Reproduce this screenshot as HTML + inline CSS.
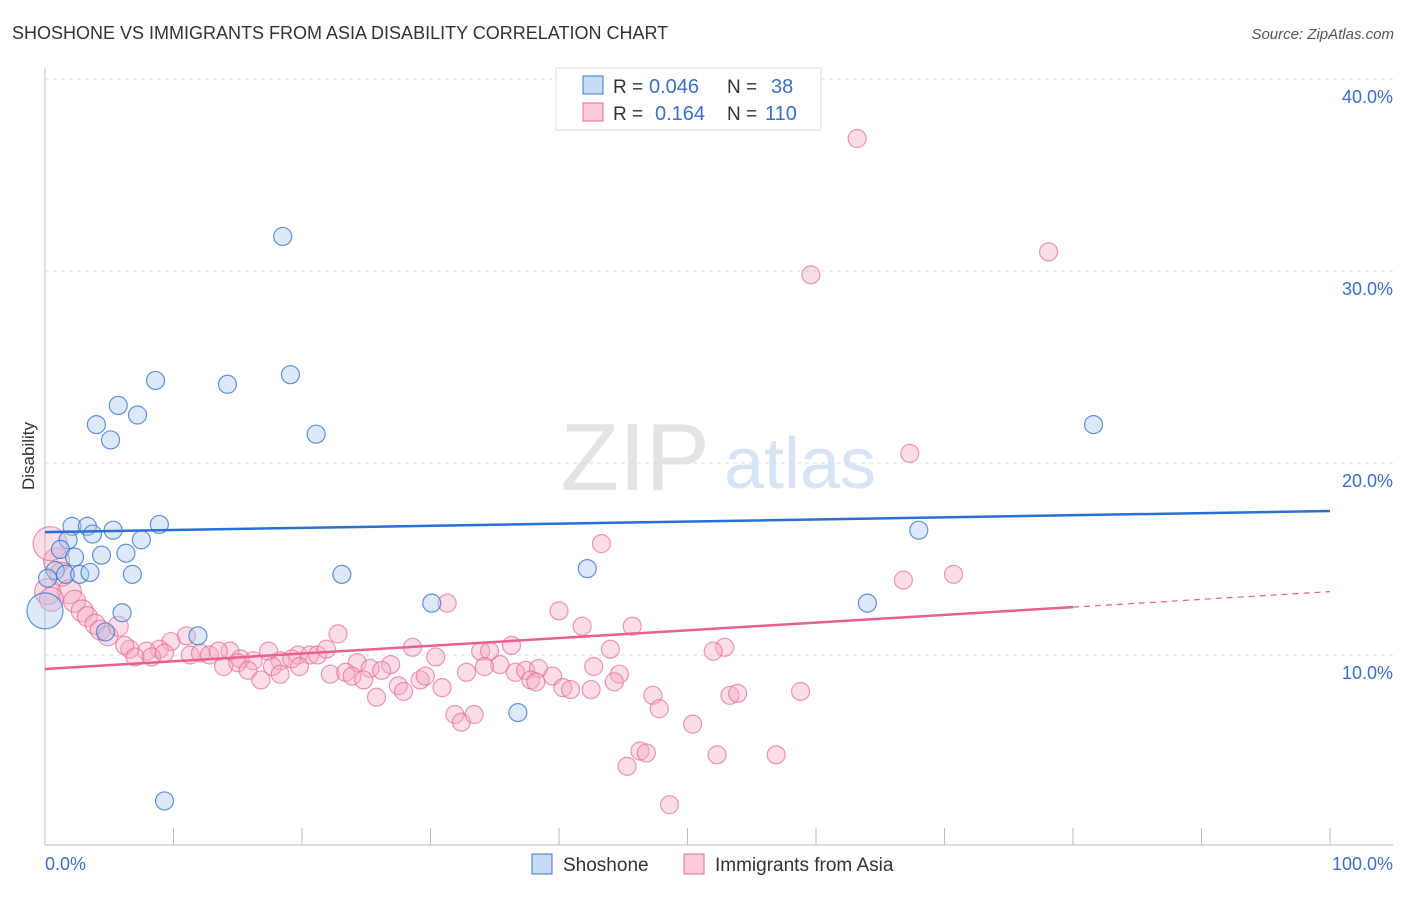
<!DOCTYPE html>
<html><head><meta charset="utf-8"><style>
body{margin:0;background:#fff;font-family:"Liberation Sans",sans-serif;}
svg text{font-family:"Liberation Sans",sans-serif;}
</style></head><body>
<svg id="c" width="1406" height="892"></svg>
<script>
const blueX=[18.5,8.6,14.2,19.1,5.7,7.2,4,5.1,21.1,81.6,2.1,3.3,5.3,8.9,3.7,1.8,7.5,1.2,2.3,4.4,6.3,0.8,1.6,2.7,3.5,6.8,23.1,42.2,68,6,30.1,64,11.9,4.7,36.8,9.3,0,0.2];
const blueY=[31.8,24.3,24.1,24.6,23,22.5,22,21.2,21.5,22,16.7,16.7,16.5,16.8,16.3,16,16,15.5,15.1,15.2,15.3,14.4,14.2,14.2,14.3,14.2,14.2,14.5,16.5,12.2,12.7,12.7,11,11.2,7,2.4,12.3,14];
const blueR=[9,9,9,9,9,9,9,9,9,9,9,9,9,9,9,9,9,9,9,9,9,9,9,9,9,9,9,9,9,9,9,9,9,9,9,9,18,9];
const pinkX=[63.2,78.1,59.6,67.3,43.3,70.7,66.8,31.3,40,41.8,45.7,22.8,11,9.8,28.6,36.3,52.9,52,44,19.7,17.4,14.4,8.9,7.9,6.6,6.2,7,8.3,9.3,11.3,12.1,12.8,13.5,15.2,16.2,18.3,19.2,20.6,21.2,21.9,24.3,25.3,26.9,30.4,33.9,34.6,35.4,36.6,37.4,38.4,39.5,42.7,44.7,32.8,34.2,13.9,15,15.8,16.8,17.7,18.3,19.8,22.2,23.4,23.9,24.8,26.2,27.5,27.9,29.2,29.6,30.9,37.8,38.2,40.3,40.9,42.5,44.3,47.3,47.8,53.3,53.9,58.8,25.8,31.9,32.4,33.4,50.4,46.3,46.8,45.3,52.3,56.9,48.6,0.9,1.3,1.9,2.3,2.9,3.3,3.9,4.3,4.9,5.7,0.4,0.2,0.5];
const pinkY=[36.9,31,29.8,20.5,15.8,14.2,13.9,12.7,12.3,11.5,11.5,11.1,11,10.7,10.4,10.5,10.4,10.2,10.3,10,10.2,10.2,10.3,10.2,10.3,10.5,9.9,9.9,10.1,10,10.1,10,10.2,9.8,9.7,9.7,9.8,10,10,10.3,9.6,9.3,9.5,9.9,10.2,10.2,9.5,9.1,9.2,9.3,8.9,9.4,9,9.1,9.4,9.4,9.6,9.2,8.7,9.4,9,9.4,9,9.1,8.9,8.7,9.2,8.4,8.1,8.7,8.9,8.3,8.7,8.6,8.3,8.2,8.2,8.6,7.9,7.2,7.9,8,8.1,7.8,6.9,6.5,6.9,6.4,5,4.9,4.2,4.8,4.8,2.2,14.9,14.2,13.3,12.8,12.3,12,11.6,11.3,11,11.5,15.8,13.3,12.9];
const pinkR=[9,9,9,9,9,9,9,9,9,9,9,9,9,9,9,9,9,9,9,9,9,9,9,9,9,9,9,9,9,9,9,9,9,9,9,9,9,9,9,9,9,9,9,9,9,9,9,9,9,9,9,9,9,9,9,9,9,9,9,9,9,9,9,9,9,9,9,9,9,9,9,9,9,9,9,9,9,9,9,9,9,9,9,9,9,9,9,9,9,9,9,9,9,9,13,12,12,11,11,10,10,10,10,10,17,13,12];
const yTicks=[10,20,30,40];
const blueTrend=[16.4,17.5];
const pinkTrend=[9.27,13.3];
const pinkSolidEnd=80;
const NS="http://www.w3.org/2000/svg";
const svg=document.getElementById('c');
const X=v=>45+v*12.85, Y=v=>847-v*19.2;
function mk(t,a,p){const e=document.createElementNS(NS,t);for(const k in a)e.setAttribute(k,a[k]);(p||svg).appendChild(e);return e;}
let e;
e=mk('text',{x:12,y:39,'font-size':18,fill:'#333'});e.textContent='SHOSHONE VS IMMIGRANTS FROM ASIA DISABILITY CORRELATION CHART';


e=mk('text',{x:1394,y:39,'font-size':15,fill:'#555','text-anchor':'end','font-style':'italic'});e.textContent='Source: ZipAtlas.com';


e=mk('text',{x:635,y:490,'font-size':96,fill:'#e4e4e4','text-anchor':'middle','font-family':'Liberation Serif'});e.textContent='ZIP';


e=mk('text',{x:800,y:488,'font-size':72,fill:'#d6e4f5','text-anchor':'middle'});e.textContent='atlas';


yTicks.forEach(t=>{
 e=mk('line',{x1:45,x2:1393,y1:Y(t),y2:Y(t),stroke:'#ddd','stroke-dasharray':'4,4'});
 
 
 e=mk('text',{x:1393,y:Y(t)+24,'font-size':18,fill:'#3b70c8','text-anchor':'end'});e.textContent=t.toFixed(1)+'%';
 
 
});
e=mk('line',{x1:45,x2:45,y1:68,y2:845,stroke:'#bbb'});


e=mk('line',{x1:45,x2:1393,y1:845,y2:845,stroke:'#bbb'});


for(let i=0;i<=10;i++){e=mk('line',{x1:X(i*10),x2:X(i*10),y1:828,y2:845,stroke:'#bbb'});
 
 }
e=mk('text',{x:45,y:870,'font-size':18,fill:'#3b70c8'});e.textContent='0.0%';


e=mk('text',{x:1393,y:870,'font-size':18,fill:'#3b70c8','text-anchor':'end'});e.textContent='100.0%';


e=mk('text',{x:34,y:456,'font-size':17,fill:'#333','text-anchor':'middle',transform:'rotate(-90 34 456)'});e.textContent='Disability';


pinkX.forEach((v,i)=>{e=mk('circle',{cx:X(v),cy:Y(pinkY[i]),r:pinkR[i],fill:'rgba(246,170,195,0.4)',stroke:'rgba(230,110,150,0.7)','stroke-width':1.2});
 
 });
blueX.forEach((v,i)=>{e=mk('circle',{cx:X(v),cy:Y(blueY[i]),r:blueR[i],fill:'rgba(170,200,240,0.4)',stroke:'rgba(60,120,210,0.8)','stroke-width':1.2});
 
 });
e=mk('line',{x1:X(0),y1:Y(blueTrend[0]),x2:X(100),y2:Y(blueTrend[1]),stroke:'#2a6fd6','stroke-width':2.5});


const pAt=x=>pinkTrend[0]+(pinkTrend[1]-pinkTrend[0])*x/100;
e=mk('line',{x1:X(0),y1:Y(pAt(0)),x2:X(pinkSolidEnd),y2:Y(pAt(pinkSolidEnd)),stroke:'#e8608c','stroke-width':2.5});


e=mk('line',{x1:X(pinkSolidEnd),y1:Y(pAt(pinkSolidEnd)),x2:X(100),y2:Y(pAt(100)),stroke:'#e8608c','stroke-width':1.2,'stroke-dasharray':'6,5'});


const lg=mk('g',{});


mk('rect',{x:556,y:68,width:265,height:62,fill:'#fff',stroke:'#ddd'},lg);
mk('rect',{x:583,y:76,width:20,height:18,fill:'rgba(160,195,240,0.6)',stroke:'#3c78d2'},lg);
mk('rect',{x:583,y:103,width:20,height:18,fill:'rgba(246,170,195,0.6)',stroke:'#e66e96'},lg);
[[93,'0.046','38',649,771],[120,'0.164','110',655,765]].forEach(r=>{
 e=mk('text',{x:613,y:r[0],'font-size':19,fill:'#333'},lg);e.textContent='R =';
 e=mk('text',{x:r[3],y:r[0],'font-size':20,fill:'#3b70c8'},lg);e.textContent=r[1];
 e=mk('text',{x:727,y:r[0],'font-size':19,fill:'#333'},lg);e.textContent='N =';
 e=mk('text',{x:r[4],y:r[0],'font-size':20,fill:'#3b70c8'},lg);e.textContent=r[2];
});
const bl=mk('g',{});


mk('rect',{x:532,y:854,width:20,height:20,fill:'rgba(160,195,240,0.6)',stroke:'#3c78d2'},bl);
e=mk('text',{x:563,y:871,'font-size':19,fill:'#333'},bl);e.textContent='Shoshone';
mk('rect',{x:684,y:854,width:20,height:20,fill:'rgba(246,170,195,0.6)',stroke:'#e66e96'},bl);
e=mk('text',{x:715,y:871,'font-size':19,fill:'#333'},bl);e.textContent='Immigrants from Asia';
</script>
</body></html>
